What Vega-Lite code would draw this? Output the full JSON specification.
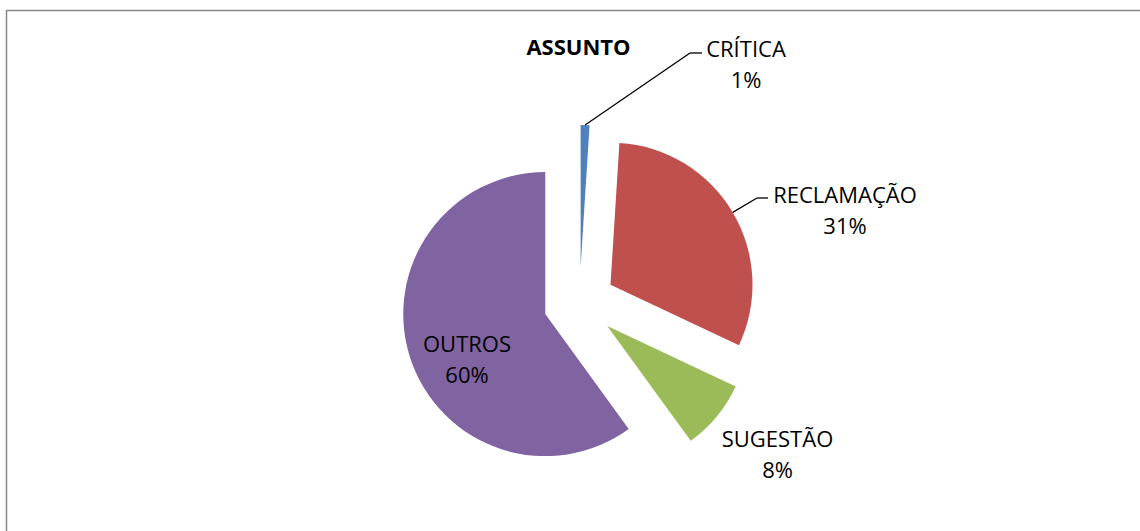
{
  "$schema": "https://vega.github.io/schema/vega-lite/v6.json",
  "width": 1133.5,
  "height": 520.5,
  "autosize": {"type": "none"},
  "padding": {"left": 6.5, "top": 10.5, "right": 0, "bottom": 0},
  "background": "white",
  "view": {"stroke": "#898989", "strokeWidth": 1.5, "fill": "white", "strokeDash": [1133.5, 1654, 522, 2]},
  "params": [
    {"name": "R", "value": 142},
    {"name": "ex", "value": 36},
    {"name": "ox", "value": 6.25},
    {"name": "oy", "value": 32.25},
    {"name": "lab", "value": {
      "CRÍTICA": [166.5, -253.5, 110.5, -250, 122.5, -250],
      "RECLAMAÇÃO": [265.5, -107.5, 177.5, -105, 188.5, -105],
      "SUGESTÃO": [198, 137],
      "OUTROS": [-112.5, 41.5]
    }}
  ],
  "title": {
    "text": "ASSUNTO",
    "font": "Open Sans",
    "fontSize": 22,
    "fontWeight": "bold",
    "color": "black",
    "anchor": "start",
    "frame": "group",
    "baseline": "alphabetic",
    "align": "center",
    "dx": 572,
    "offset": -66
  },
  "data": {
    "values": [
      {"cat": "CRÍTICA", "v": 1, "ord": 1},
      {"cat": "RECLAMAÇÃO", "v": 31, "ord": 2},
      {"cat": "SUGESTÃO", "v": 8, "ord": 3},
      {"cat": "OUTROS", "v": 60, "ord": 4}
    ]
  },
  "transform": [
    {"stack": "v", "groupby": [], "sort": [{"field": "ord", "order": "ascending"}], "as": ["s0", "s1"]}
  ],
  "layer": [
    {
      "mark": {"type": "arc", "radius": {"expr": "R"}},
      "encoding": {
        "theta": {"field": "s0", "type": "quantitative", "stack": null, "scale": {"domain": [0, 100]}},
        "theta2": {"field": "s1"},
        "x": {"value": {"expr": "width/2 + ox + ex*sin(scale('theta',(datum.s0+datum.s1)/2))"}},
        "y": {"value": {"expr": "height/2 + oy - ex*cos(scale('theta',(datum.s0+datum.s1)/2))"}},
        "color": {
          "field": "cat",
          "type": "nominal",
          "scale": {
            "domain": ["CRÍTICA", "RECLAMAÇÃO", "SUGESTÃO", "OUTROS"],
            "range": ["#4F81BD", "#C0504D", "#9BBB59", "#8064A2"]
          },
          "legend": null
        }
      }
    },
    {
      "transform": [{"filter": "datum.cat == 'CRÍTICA' || datum.cat == 'RECLAMAÇÃO'"}],
      "mark": {"type": "rule", "color": "black", "strokeWidth": 1.3},
      "encoding": {
        "x": {"value": {"expr": "width/2 + ox + (R+ex)*sin(scale('theta',(datum.s0+datum.s1)/2))"}},
        "y": {"value": {"expr": "height/2 + oy - (R+ex)*cos(scale('theta',(datum.s0+datum.s1)/2))"}},
        "x2": {"value": {"expr": "width/2 + ox + lab[datum.cat][2]"}},
        "y2": {"value": {"expr": "height/2 + oy + lab[datum.cat][3]"}}
      }
    },
    {
      "transform": [{"filter": "datum.cat == 'CRÍTICA' || datum.cat == 'RECLAMAÇÃO'"}],
      "mark": {"type": "rule", "color": "black", "strokeWidth": 1.3},
      "encoding": {
        "x": {"value": {"expr": "width/2 + ox + lab[datum.cat][2]"}},
        "y": {"value": {"expr": "height/2 + oy + lab[datum.cat][3]"}},
        "x2": {"value": {"expr": "width/2 + ox + lab[datum.cat][4]"}},
        "y2": {"value": {"expr": "height/2 + oy + lab[datum.cat][5]"}}
      }
    },
    {
      "mark": {
        "type": "text",
        "font": "Open Sans",
        "fontSize": 22,
        "lineHeight": 31,
        "align": "center",
        "baseline": "middle",
        "color": "black",
        "text": {"expr": "[datum.cat, format(datum.v/100, '.0%')]"},
        "x": {"expr": "width/2 + ox"},
        "y": {"expr": "height/2 + oy"},
        "dx": {"expr": "lab[datum.cat][0]"},
        "dy": {"expr": "lab[datum.cat][1]"}
      },
      "encoding": {}
    }
  ]
}
